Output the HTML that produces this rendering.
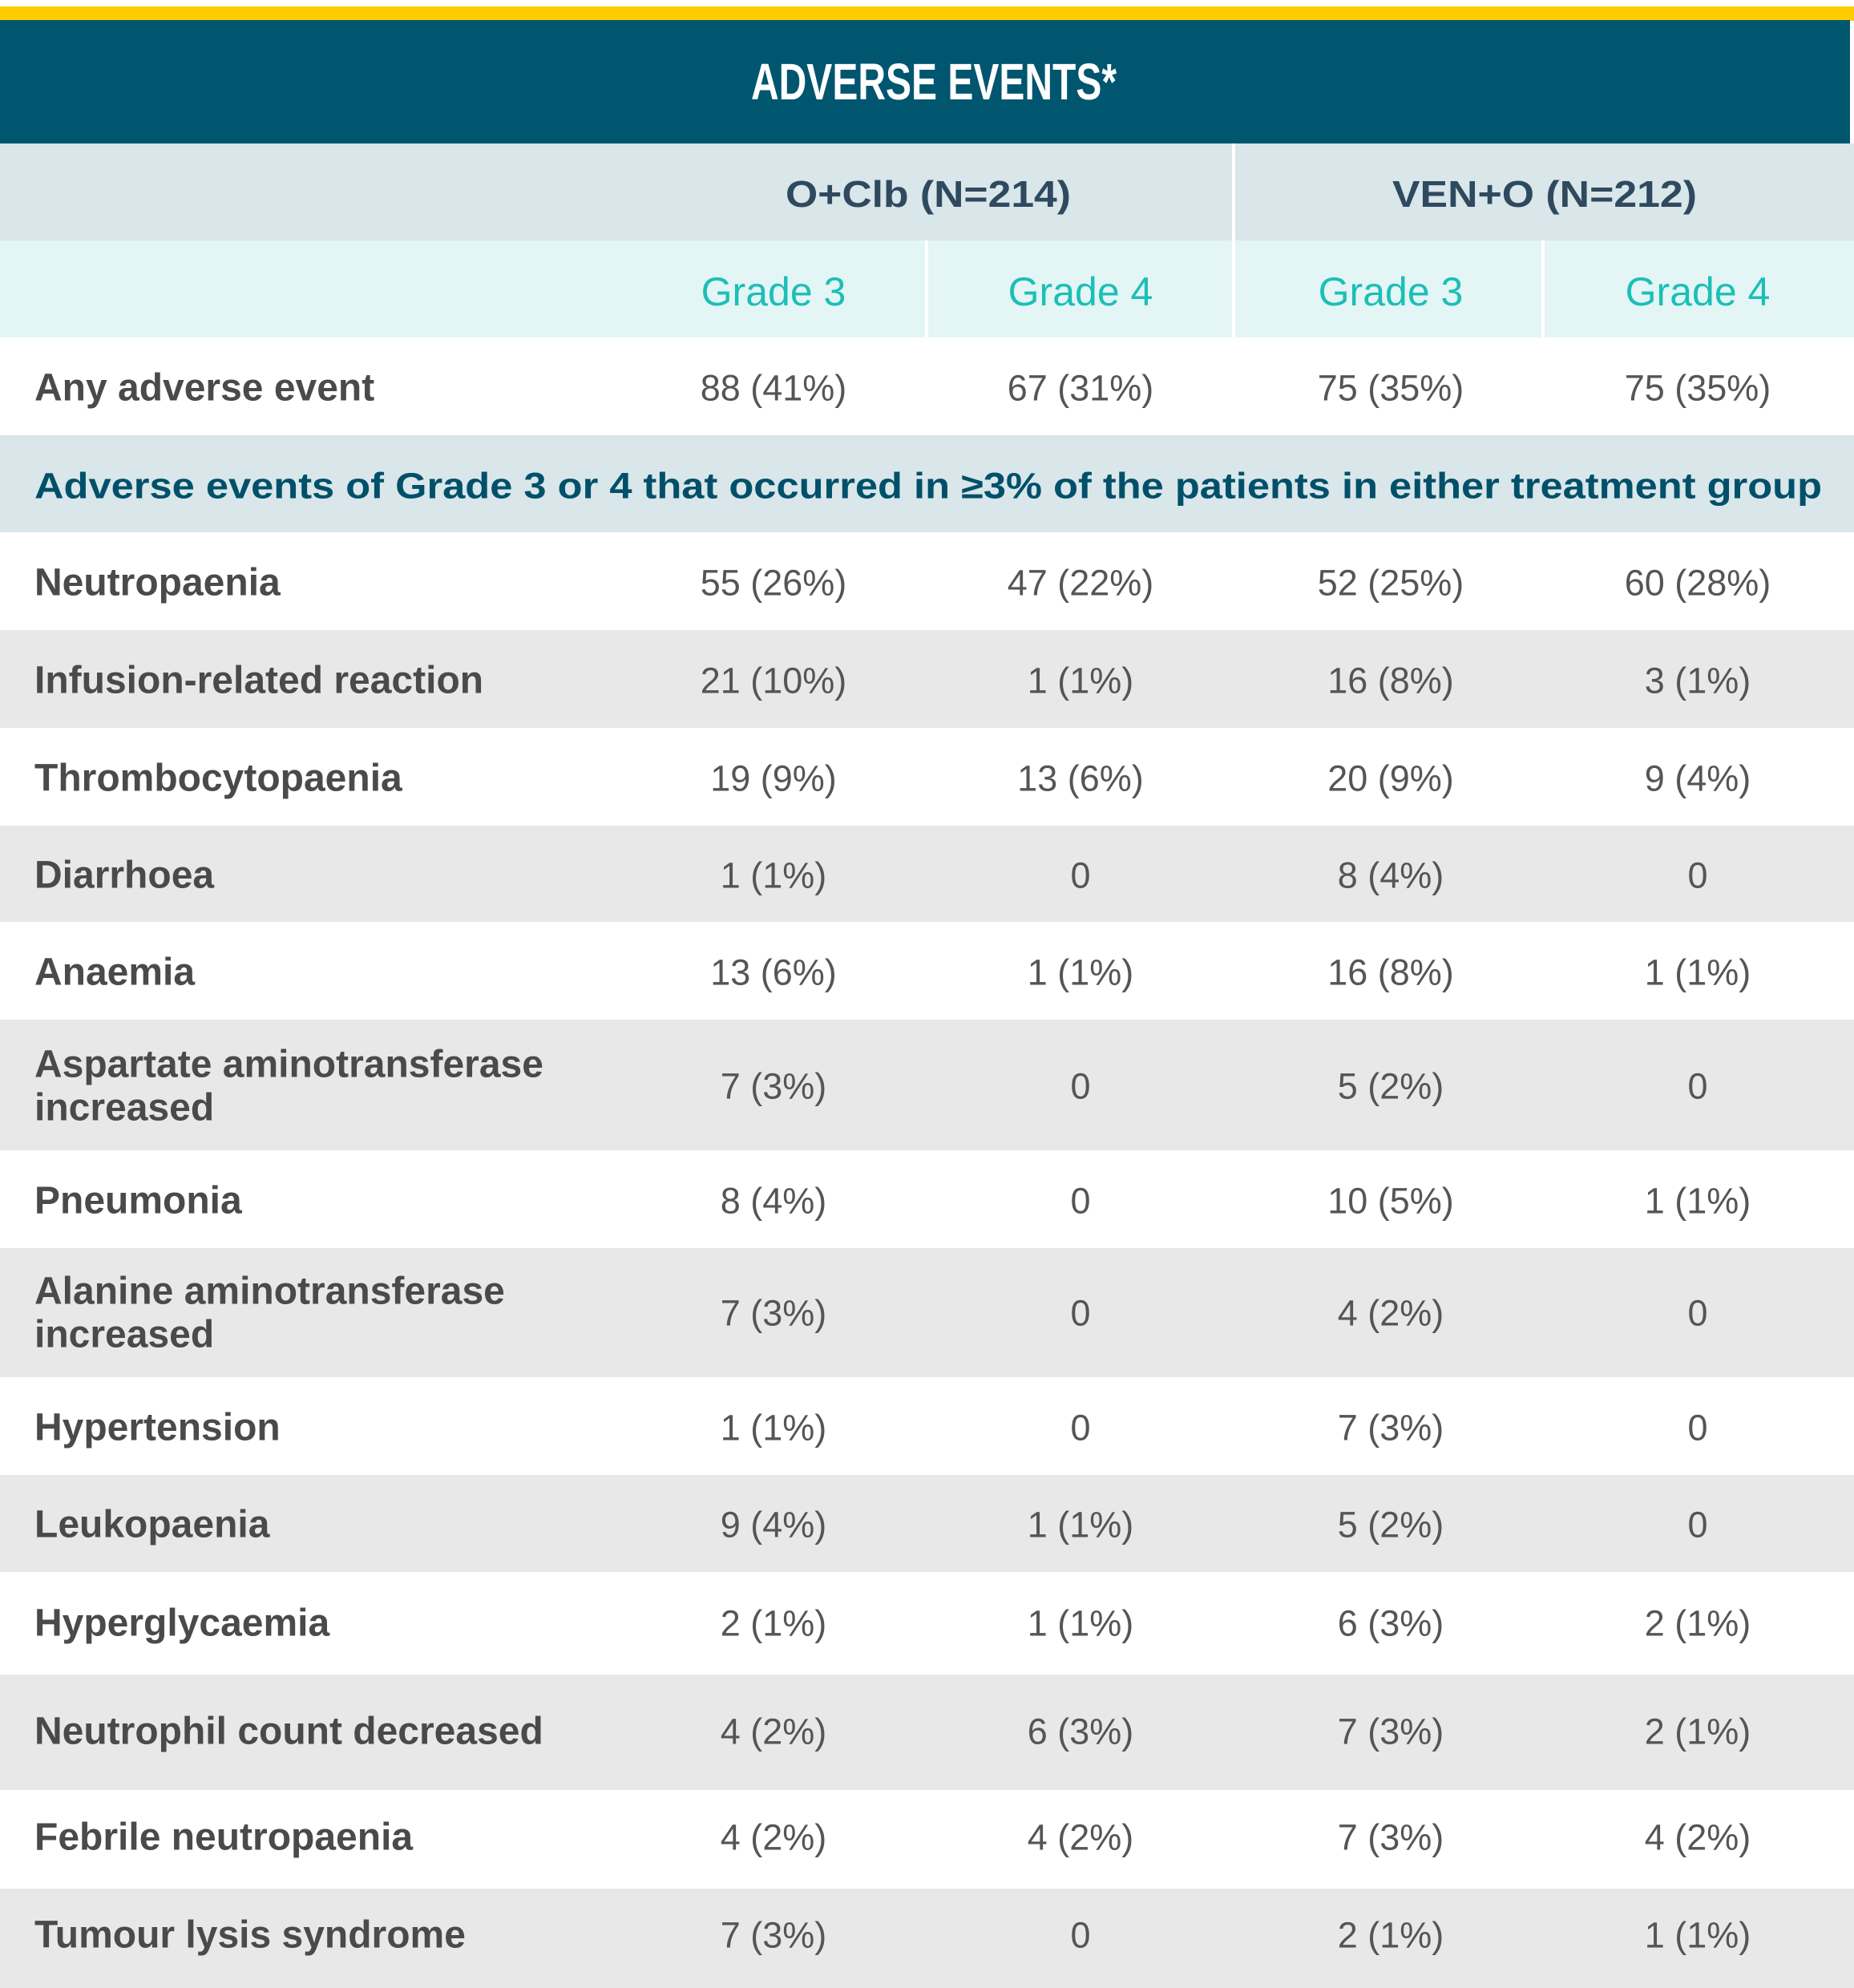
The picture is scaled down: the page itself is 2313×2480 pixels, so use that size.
<!DOCTYPE html>
<html><head><meta charset="utf-8"><style>html,body{margin:0;padding:0;background:#fff}svg{display:block}</style></head><body>
<svg width="2313" height="2480" viewBox="0 0 2313 2480" xmlns="http://www.w3.org/2000/svg" font-family="Liberation Sans, sans-serif">
<rect x="0" y="0" width="2313" height="2480" fill="#fff"/>
<rect x="0" y="8" width="2313" height="18" fill="#FFCC00"/>
<rect x="0" y="25" width="2308" height="154" fill="#00566F"/>
<text x="1165" y="102" text-anchor="middle" dominant-baseline="central" fill="#fff" font-weight="bold" font-size="64" textLength="456" lengthAdjust="spacingAndGlyphs">ADVERSE EVENTS*</text>
<rect x="0" y="179" width="2313" height="121" fill="#D9E6EA"/>
<rect x="0" y="300" width="2313" height="121" fill="#E4F5F6"/>
<rect x="1537" y="179" width="4" height="242" fill="#fff"/>
<rect x="1154" y="300" width="4" height="121" fill="#fff"/>
<rect x="1923" y="300" width="4" height="121" fill="#fff"/>
<g font-size="46" font-weight="bold" fill="#2F4A5E" dominant-baseline="central" text-anchor="middle">
<text x="1158" y="242" textLength="356" lengthAdjust="spacingAndGlyphs">O+Clb (N=214)</text>
<text x="1927" y="242" textLength="380" lengthAdjust="spacingAndGlyphs">VEN+O (N=212)</text>
</g>
<g font-size="50" fill="#1BBFB5" dominant-baseline="central" text-anchor="middle">
<text x="965" y="364">Grade 3</text><text x="1348" y="364">Grade 4</text>
<text x="1735" y="364">Grade 3</text><text x="2118" y="364">Grade 4</text>
</g>
<rect x="0" y="543" width="2313" height="121" fill="#D9E6EA"/>
<text x="43" y="606" dominant-baseline="central" fill="#00506A" font-weight="bold" font-size="45" textLength="2230" lengthAdjust="spacingAndGlyphs">Adverse events of Grade 3 or 4 that occurred in ≥3% of the patients in either treatment group</text>
<g fill="#E8E8E8">
<rect x="0" y="786" width="2313" height="122"/>
<rect x="0" y="1030" width="2313" height="120"/>
<rect x="0" y="1272" width="2313" height="163"/>
<rect x="0" y="1557" width="2313" height="161"/>
<rect x="0" y="1840" width="2313" height="121"/>
<rect x="0" y="2089" width="2313" height="144"/>
<rect x="0" y="2356" width="2313" height="124"/>
</g>
<g font-size="48" font-weight="bold" fill="#4A4A4A" dominant-baseline="central">
<text x="43" y="484">Any adverse event</text>
<text x="43" y="727">Neutropaenia</text>
<text x="43" y="849">Infusion-related reaction</text>
<text x="43" y="971">Thrombocytopaenia</text>
<text x="43" y="1092">Diarrhoea</text>
<text x="43" y="1213">Anaemia</text>
<text x="43" y="1328">Aspartate aminotransferase</text>
<text x="43" y="1382">increased</text>
<text x="43" y="1498">Pneumonia</text>
<text x="43" y="1611">Alanine aminotransferase</text>
<text x="43" y="1665">increased</text>
<text x="43" y="1781">Hypertension</text>
<text x="43" y="1902">Leukopaenia</text>
<text x="43" y="2025">Hyperglycaemia</text>
<text x="43" y="2160">Neutrophil count decreased</text>
<text x="43" y="2292">Febrile neutropaenia</text>
<text x="43" y="2414">Tumour lysis syndrome</text>
</g>
<g font-size="45" fill="#555" dominant-baseline="central" text-anchor="middle">
<text x="965" y="484">88 (41%)</text><text x="1348" y="484">67 (31%)</text><text x="1735" y="484">75 (35%)</text><text x="2118" y="484">75 (35%)</text>
<text x="965" y="727">55 (26%)</text><text x="1348" y="727">47 (22%)</text><text x="1735" y="727">52 (25%)</text><text x="2118" y="727">60 (28%)</text>
<text x="965" y="849">21 (10%)</text><text x="1348" y="849">1 (1%)</text><text x="1735" y="849">16 (8%)</text><text x="2118" y="849">3 (1%)</text>
<text x="965" y="971">19 (9%)</text><text x="1348" y="971">13 (6%)</text><text x="1735" y="971">20 (9%)</text><text x="2118" y="971">9 (4%)</text>
<text x="965" y="1092">1 (1%)</text><text x="1348" y="1092">0</text><text x="1735" y="1092">8 (4%)</text><text x="2118" y="1092">0</text>
<text x="965" y="1213">13 (6%)</text><text x="1348" y="1213">1 (1%)</text><text x="1735" y="1213">16 (8%)</text><text x="2118" y="1213">1 (1%)</text>
<text x="965" y="1355">7 (3%)</text><text x="1348" y="1355">0</text><text x="1735" y="1355">5 (2%)</text><text x="2118" y="1355">0</text>
<text x="965" y="1498">8 (4%)</text><text x="1348" y="1498">0</text><text x="1735" y="1498">10 (5%)</text><text x="2118" y="1498">1 (1%)</text>
<text x="965" y="1638">7 (3%)</text><text x="1348" y="1638">0</text><text x="1735" y="1638">4 (2%)</text><text x="2118" y="1638">0</text>
<text x="965" y="1781">1 (1%)</text><text x="1348" y="1781">0</text><text x="1735" y="1781">7 (3%)</text><text x="2118" y="1781">0</text>
<text x="965" y="1902">9 (4%)</text><text x="1348" y="1902">1 (1%)</text><text x="1735" y="1902">5 (2%)</text><text x="2118" y="1902">0</text>
<text x="965" y="2025">2 (1%)</text><text x="1348" y="2025">1 (1%)</text><text x="1735" y="2025">6 (3%)</text><text x="2118" y="2025">2 (1%)</text>
<text x="965" y="2160">4 (2%)</text><text x="1348" y="2160">6 (3%)</text><text x="1735" y="2160">7 (3%)</text><text x="2118" y="2160">2 (1%)</text>
<text x="965" y="2292">4 (2%)</text><text x="1348" y="2292">4 (2%)</text><text x="1735" y="2292">7 (3%)</text><text x="2118" y="2292">4 (2%)</text>
<text x="965" y="2414">7 (3%)</text><text x="1348" y="2414">0</text><text x="1735" y="2414">2 (1%)</text><text x="2118" y="2414">1 (1%)</text>
</g>
</svg>
</body></html>
